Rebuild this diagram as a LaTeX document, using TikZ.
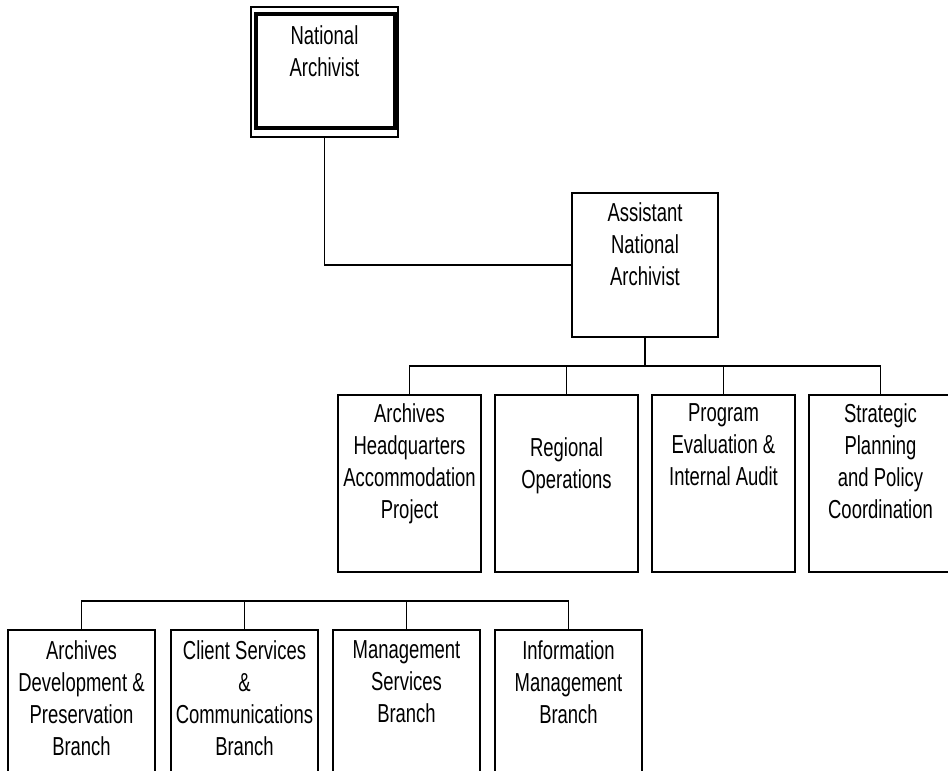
\documentclass[tikz,border=0pt]{standalone}
\usepackage{fontspec}
\setmainfont{Liberation Sans}[FakeStretch=0.71]
\usepackage{tikz}
\usetikzlibrary{positioning,calc}

\begin{document}
\begin{tikzpicture}[
    x=1pt,y=-1pt,
    line width=1.8pt,
    unit/.style={draw,anchor=north,minimum width=143pt,minimum height=177pt,inner sep=0pt},
    branch/.style={draw,anchor=north,minimum width=147pt,minimum height=170pt,inner sep=0pt},
    lbl/.style={anchor=north,align=center,inner sep=0pt,font=\fontsize{26}{32}\selectfont}
]
\clip (0,0) rectangle (948,771);
\node[draw,line width=1.5pt,minimum width=147pt,minimum height=130pt,inner sep=0pt] (nat) at (324.5,72) {};
\node[draw,line width=4pt,minimum width=139pt,minimum height=114pt,inner sep=0pt] (natin) at (325,71) {};
\node[lbl] at ([yshift=-19pt]nat.north) {National\\Archivist};
\node[draw,minimum width=146pt,minimum height=144pt,inner sep=0pt] (ana) at (645,265) {};
\node[lbl] at ([yshift=-10pt]ana.north) {Assistant\\National\\Archivist};
\draw (nat.south) |- (ana.west);

\node[unit] (hq) at (409.5,394) {};
\node[unit] (reg) at (566.5,394) {};
\node[unit] (pea) at (723.5,394) {};
\node[unit] (spc) at (880.5,394) {};
\node[lbl] at ([yshift=-9pt]hq.north) {Archives\\Headquarters\\Accommodation\\Project};
\node[lbl] at ([yshift=-43pt]reg.north) {Regional\\Operations};
\node[lbl] at ([yshift=-9pt]pea.north) {Program\\Evaluation \&\\Internal Audit};
\node[lbl] at ([yshift=-9pt]spc.north) {Strategic\\Planning\\and Policy\\Coordination};
\coordinate (bus2) at (645,366);
\draw (ana.south) -- (bus2);
\foreach \n in {hq,reg,pea,spc}
    \draw (\n.north) |- (bus2);

\node[branch] (adp) at (81.5,629) {};
\node[branch] (csc) at (244.5,629) {};
\node[branch] (msb) at (406.5,629) {};
\node[branch] (imb) at (568.5,629) {};
\node[lbl] at ([yshift=-11pt]adp.north) {Archives\\Development \&\\Preservation\\Branch};
\node[lbl] at ([yshift=-11pt]csc.north) {Client Services\\\&\\Communications\\Branch};
\node[lbl] at ([yshift=-11pt]msb.north) {Management\\Services\\Branch};
\node[lbl] at ([yshift=-11pt]imb.north) {Information\\Management\\Branch};
\coordinate (bus3) at (325,601);
\foreach \n in {adp,csc,msb,imb}
    \draw (\n.north) |- (bus3);
\end{tikzpicture}
\end{document}
